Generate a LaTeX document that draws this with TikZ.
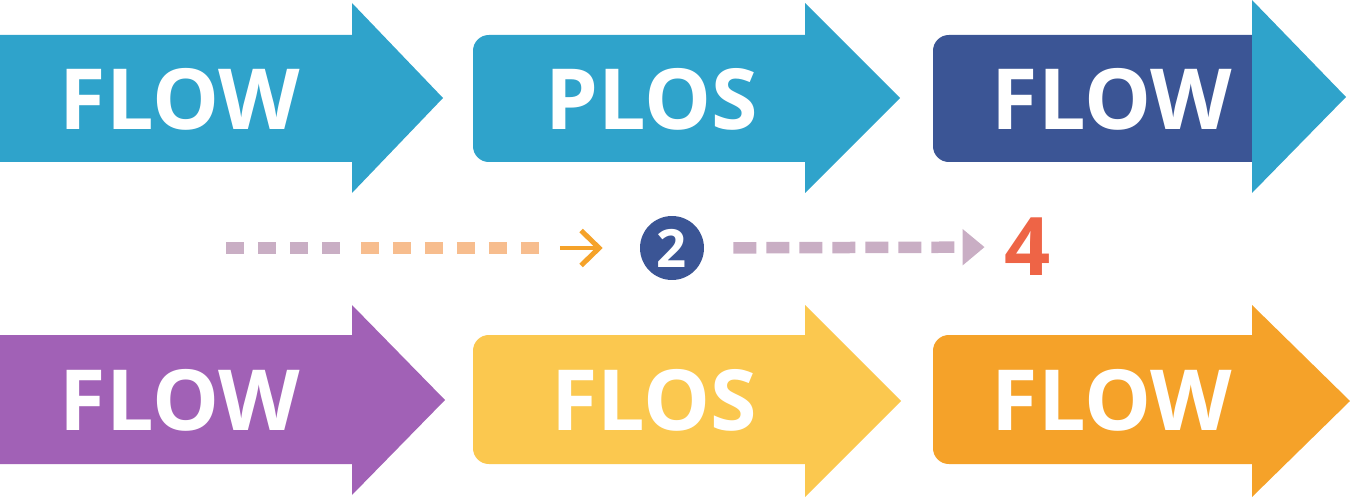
\documentclass[tikz,border=0pt]{standalone}
\usepackage{fontspec}
\setmainfont{Open Sans}
\usetikzlibrary{arrows.meta,positioning}

\definecolor{flowcyan}{HTML}{2FA3CB}
\definecolor{flownavy}{HTML}{3B5595}
\definecolor{flowpurple}{HTML}{A161B6}
\definecolor{flowyellow}{HTML}{FBC84F}
\definecolor{floworange}{HTML}{F5A229}
\definecolor{dashpurple}{HTML}{C9AEC4}
\definecolor{dashorange}{HTML}{F7BD8E}
\definecolor{fourred}{HTML}{EE6446}

\tikzset{
  arrowtext/.style={text=white, inner sep=0pt, font=\fontsize{48}{48}\selectfont\bfseries},
  dashline/.style={line width=0.23cm, dash pattern=on 0.36cm off 0.28cm}
}

\begin{document}
\begin{tikzpicture}[x=0.02cm, y=-0.02cm]
    \useasboundingbox (0,0) rectangle (1350,500);

    % Top row
    \fill[flowcyan] (0,35) -- (352,35) -- (352,3) -- (443,98) -- (352,193) -- (352,162) -- (0,162) -- cycle;
    \fill[flowcyan] (805,162) [rounded corners=9pt] -- (473,162) -- (473,35) [sharp corners] -- (805,35) -- (805,3) -- (900,98) -- (805,193) -- cycle;
    \fill[flownavy] (1252,162) [rounded corners=9pt] -- (933,162) -- (933,35) [sharp corners] -- (1252,35) -- cycle;
    \fill[flowcyan] (1252,0) -- (1346,97) -- (1252,193) -- cycle;

    \node[arrowtext] (flowA) at (180,99) {FLOW};
    \node[arrowtext] (plos) at (652,99) {PLOS};
    \node[arrowtext] (flowB) at (1112,99) {FLOW};

    % Bottom row
    \fill[flowpurple] (0,335) -- (352,335) -- (352,305) -- (445,400) -- (352,495) -- (352,464) -- (0,464) -- cycle;
    \fill[flowyellow] (805,464) [rounded corners=9pt] -- (473,464) -- (473,335) [sharp corners] -- (805,335) -- (805,305) -- (901,401) -- (805,497) -- cycle;
    \fill[floworange] (1252,464) [rounded corners=9pt] -- (933,464) -- (933,335) [sharp corners] -- (1252,335) -- (1252,305) -- (1350,401) -- (1252,497) -- cycle;

    \node[arrowtext] (flowC) at (180,400) {FLOW};
    \node[arrowtext] (flos) at (654,400) {FLOS};
    \node[arrowtext] (flowD) at (1112,400) {FLOW};

    % Middle steps
    \coordinate (dashstart) at (226,248);
    \node[circle, fill=flownavy, minimum size=1.28cm, inner sep=0pt, text=white,
          font=\fontsize{30}{30}\selectfont\bfseries] (two) at (672,248) {2};
    \node[inner sep=0pt, text=fourred, font=\fontsize{46}{46}\selectfont\bfseries] (four) at (1028,247) {4};

    \draw[dashpurple, dashline] (dashstart) -- ++(116,0) coordinate (dashturn);
    \draw[dashorange, dashline] ([xshift=0.38cm]dashturn) -- ++(180,0) coordinate (dashend);
    \draw[floworange, line width=0.1cm, -{Straight Barb[length=0.36cm, width=0.7cm]}, shorten >=0.74cm]
        ([xshift=0.38cm]dashend) -- (two);
    \draw[dashpurple, line width=0.23cm, dash pattern=on 0.46cm off 0.2cm,
          -{Triangle[length=0.44cm, width=0.7cm]}, shorten <=0.58cm, shorten >=0.4cm] (two) -- (four);

\end{tikzpicture}
\end{document}
